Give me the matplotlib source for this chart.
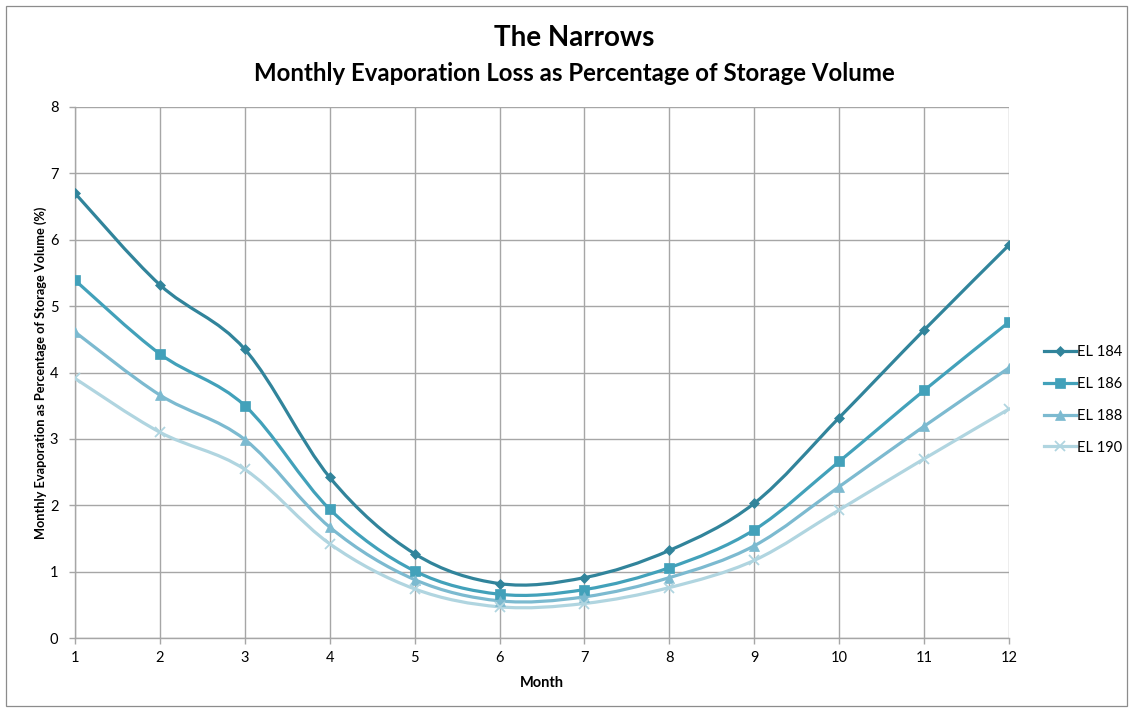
import numpy as np
import matplotlib.pyplot as plt
from matplotlib.path import Path
from matplotlib.patches import PathPatch, Rectangle
from matplotlib.lines import Line2D

plt.rcParams['font.family'] = ['Lato', 'DejaVu Sans']

months = [1, 2, 3, 4, 5, 6, 7, 8, 9, 10, 11, 12]
el_184 = [6.70, 5.32, 4.35, 2.42, 1.27, 0.82, 0.91, 1.32, 2.03, 3.32, 4.64, 5.92]
el_186 = [5.39, 4.28, 3.50, 1.94, 1.01, 0.66, 0.73, 1.06, 1.63, 2.66, 3.73, 4.76]
el_188 = [4.61, 3.66, 2.99, 1.67, 0.88, 0.56, 0.62, 0.91, 1.39, 2.28, 3.19, 4.07]
el_190 = [3.91, 3.10, 2.54, 1.42, 0.74, 0.47, 0.52, 0.76, 1.17, 1.93, 2.70, 3.45]

labels = ['EL 184', 'EL 186', 'EL 188', 'EL 190']
colors = ['#31849b', '#42a1ba', '#7cbad0', '#b0d5e0']
markers = ['D', 's', '^', 'x']
msizes = [5.5, 7, 7, 7]


def smooth_path(x, y):
    # bezier segments through each point, spreadsheet-style smoothing
    p = np.column_stack([x, y]).astype(float)
    ext = np.vstack([p[0], p, p[-1]])
    verts = [p[0]]
    codes = [Path.MOVETO]
    for i in range(len(p) - 1):
        c1 = ext[i + 1] + (ext[i + 2] - ext[i]) / 6.0
        c2 = ext[i + 2] - (ext[i + 3] - ext[i + 1]) / 6.0
        verts += [c1, c2, ext[i + 2]]
        codes += [Path.CURVE4] * 3
    return Path(verts, codes)


fig = plt.figure(figsize=(11.3, 7.09), dpi=100)
fig.patches.append(Rectangle((0.005, 0.004), 0.992, 0.988, transform=fig.transFigure,
                             fill=False, edgecolor='#8c8c8c', linewidth=0.9))
ax = fig.add_axes([0.0664, 0.1001, 0.8265, 0.7490])

handles = []
for vals, lab, col, mk, ms in zip([el_184, el_186, el_188, el_190], labels, colors, markers, msizes):
    ax.add_patch(PathPatch(smooth_path(months, vals), facecolor='none', edgecolor=col,
                           linewidth=2.3, zorder=3))
    ax.plot(months, vals, linestyle='none', marker=mk, markersize=ms, color=col,
            markeredgewidth=1.3 if mk == 'x' else 0.5, zorder=4)
    handles.append(Line2D([], [], color=col, linewidth=2.3, marker=mk, markersize=ms,
                          markeredgewidth=1.3 if mk == 'x' else 0.5, label=lab))

ax.set_xlim(1, 12)
ax.set_ylim(0, 8)
ax.set_xticks(months)
ax.set_yticks(range(0, 9))
ax.grid(True, color='#a6a6a6', linewidth=1.0, zorder=1)
ax.set_axisbelow(True)
for s in ['top', 'right']:
    ax.spines[s].set_visible(False)
for s in ['left', 'bottom']:
    ax.spines[s].set_color('#a6a6a6')
    ax.spines[s].set_linewidth(1.0)
ax.tick_params(axis='both', colors='#a6a6a6', labelcolor='black', labelsize=10.5,
               length=4, width=1.0)
ax.tick_params(axis='y', pad=8)
ax.tick_params(axis='x', pad=5)

ax.set_xlabel('Month', fontsize=10.5, fontweight='bold', labelpad=8)
ax.set_ylabel('Monthly Evaporation as Percentage of Storage Volume (%)', fontsize=9.2,
              fontweight='bold', labelpad=2)

fig.text(0.508, 0.946, 'The Narrows', ha='center', va='center', fontsize=20, fontweight='bold')
fig.text(0.508, 0.896, 'Monthly Evaporation Loss as Percentage of Storage Volume', ha='center',
         va='center', fontsize=17.3, fontweight='bold')

fig.legend(handles=handles, loc='center left', bbox_to_anchor=(0.912, 0.436), frameon=False,
           fontsize=10.5, handlelength=2.2, handletextpad=0.1, labelspacing=1.22)

fig.savefig('out.png', dpi=100)
